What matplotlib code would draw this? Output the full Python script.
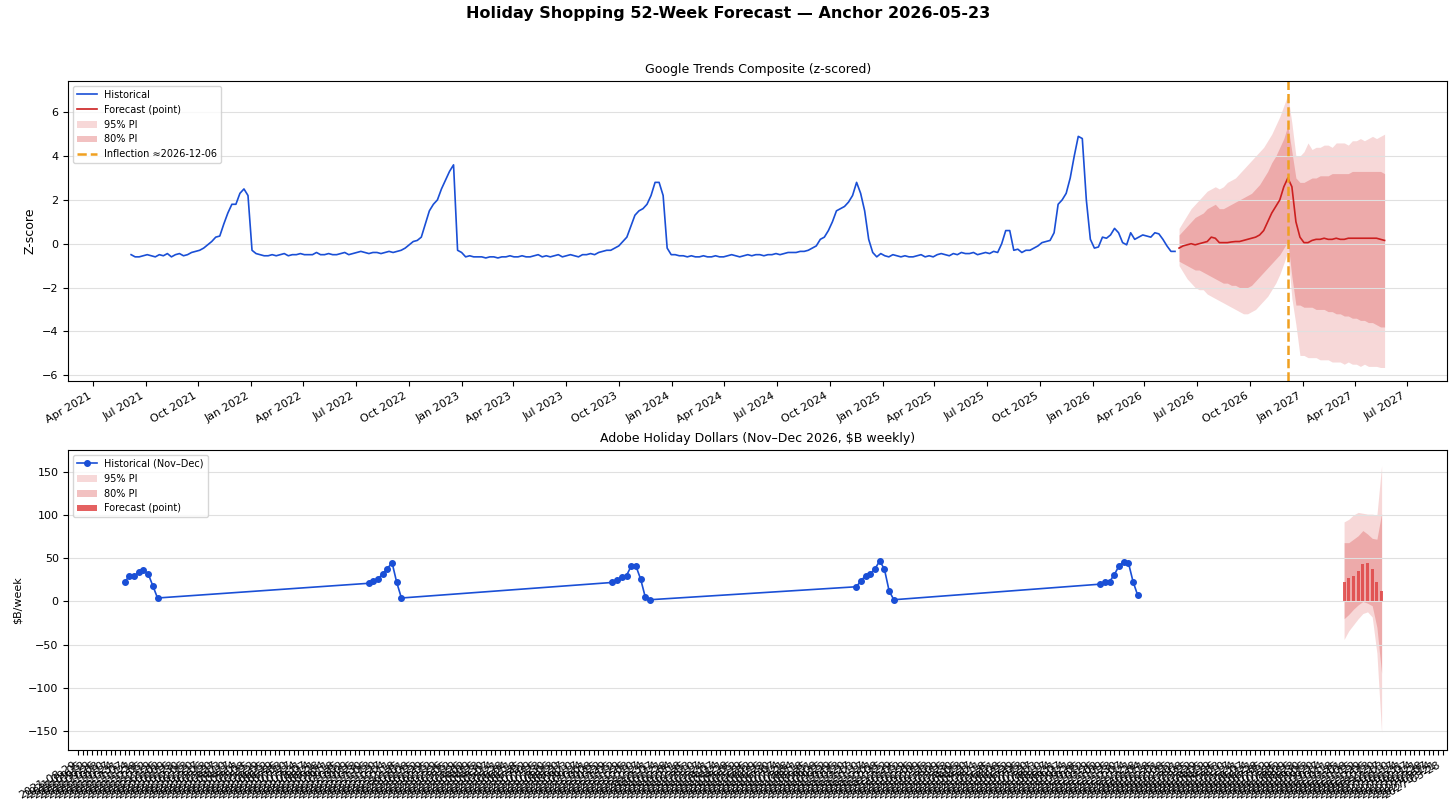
import numpy as np
import pandas as pd
import matplotlib
matplotlib.use("Agg")
import matplotlib.pyplot as plt
import matplotlib.dates as mdates

# --- Google Trends composite (weekly z-score), one list per Jun->May season
hist_start = "2021-06-06"
season_2021 = [-0.5, -0.6, -0.6, -0.55, -0.5, -0.55, -0.6, -0.5, -0.55, -0.45, -0.6, -0.5, -0.45, -0.55, -0.5,
               -0.4, -0.35, -0.3, -0.2, -0.05, 0.1,
               0.3, 0.35, 0.9, 1.4, 1.8, 1.8, 2.3, 2.5, 2.2, -0.3,
               -0.45, -0.5, -0.55, -0.55, -0.5, -0.55, -0.5, -0.45, -0.55, -0.5, -0.5, -0.45, -0.5, -0.5, -0.5,
               -0.4, -0.5, -0.5, -0.45, -0.5, -0.5]
season_2022 = [-0.45, -0.4, -0.5, -0.45, -0.4, -0.35, -0.4, -0.45, -0.4, -0.4, -0.45, -0.4, -0.35, -0.4, -0.35,
               -0.3, -0.2, -0.05, 0.1, 0.15, 0.3, 0.9,
               1.5, 1.8, 2.0, 2.5, 2.9, 3.3, 3.6, -0.3, -0.4,
               -0.6, -0.55, -0.6, -0.6, -0.6, -0.65, -0.6, -0.6, -0.65, -0.6, -0.6, -0.55, -0.6, -0.6, -0.55,
               -0.6, -0.6, -0.55, -0.5, -0.6, -0.55]
season_2023 = [-0.6, -0.55, -0.5, -0.6, -0.55, -0.5, -0.55, -0.6, -0.5, -0.5, -0.45, -0.5, -0.4, -0.35, -0.3,
               -0.3, -0.2, -0.1, 0.1, 0.3, 0.8, 1.3,
               1.5, 1.6, 1.8, 2.2, 2.8, 2.8, 2.2, -0.2, -0.5,
               -0.5, -0.55, -0.55, -0.6, -0.55, -0.6, -0.6, -0.55, -0.6, -0.6, -0.55, -0.6, -0.6, -0.55, -0.5,
               -0.55, -0.6, -0.55, -0.5, -0.55, -0.5]
season_2024 = [-0.5, -0.55, -0.5, -0.5, -0.45, -0.5, -0.45, -0.4, -0.4, -0.4, -0.35, -0.35, -0.3, -0.2, -0.1,
               0.2, 0.3, 0.6, 1.0, 1.5, 1.6, 1.7,
               1.9, 2.2, 2.8, 2.3, 1.5, 0.2, -0.4, -0.6, -0.45,
               -0.55, -0.6, -0.5, -0.55, -0.6, -0.55, -0.6, -0.6, -0.55, -0.5, -0.6, -0.55, -0.6, -0.5, -0.45,
               -0.5, -0.55, -0.45, -0.5, -0.4, -0.45]
season_2025 = [-0.45, -0.4, -0.5, -0.45, -0.4, -0.45, -0.35, -0.4, 0.0, 0.6, 0.6, -0.3, -0.25, -0.4, -0.3,
               -0.3, -0.2, -0.1, 0.05, 0.1, 0.15, 0.5,
               1.8, 2.0, 2.3, 3.0, 4.0, 4.9, 4.8, 2.0, 0.2,
               -0.2, -0.15, 0.3, 0.25, 0.4, 0.7, 0.5, 0.05, -0.05, 0.5, 0.2, 0.3, 0.4, 0.35, 0.3,
               0.5, 0.45, 0.2, -0.1, -0.35, -0.35]

fc_start = "2026-05-31"
fc_point = [-0.2, -0.1, -0.05, 0.0, -0.05, 0.0, 0.05, 0.1, 0.3, 0.25,
            0.05, 0.05, 0.05, 0.08, 0.1, 0.1, 0.15, 0.2, 0.25, 0.3,
            0.4, 0.6, 1.0, 1.4, 1.7, 2.0, 2.6, 3.0, 2.6, 1.0,
            0.3, 0.05, 0.05, 0.15, 0.2, 0.2, 0.25, 0.2, 0.2, 0.25,
            0.2, 0.2, 0.25, 0.25, 0.25, 0.25, 0.25, 0.25, 0.25, 0.25, 0.2, 0.15]
fc_up80 = [0.4, 0.6, 0.8, 1.0, 1.2, 1.3, 1.4, 1.6, 1.7, 1.8,
           1.6, 1.6, 1.7, 1.8, 1.9, 2.0, 2.1, 2.2, 2.3, 2.5,
           2.7, 3.0, 3.3, 3.7, 4.0, 4.4, 4.8, 5.4, 4.2, 3.0,
           2.8, 2.8, 2.9, 3.0, 3.0, 3.1, 3.1, 3.1, 3.2, 3.2,
           3.2, 3.2, 3.2, 3.3, 3.3, 3.3, 3.3, 3.3, 3.3, 3.3, 3.3, 3.2]
fc_lo80 = [-0.8, -0.9, -1.0, -1.1, -1.2, -1.2, -1.3, -1.4, -1.5, -1.6,
           -1.7, -1.8, -1.8, -1.9, -1.9, -2.0, -2.0, -2.0, -1.9, -1.7,
           -1.5, -1.3, -1.1, -0.9, -0.7, -0.5, -0.2, 0.1, -1.5, -2.8,
           -2.8, -2.9, -2.9, -2.9, -3.0, -3.0, -3.0, -3.1, -3.1, -3.2,
           -3.2, -3.3, -3.3, -3.4, -3.4, -3.5, -3.5, -3.6, -3.6, -3.7, -3.8, -3.8]
fc_up95 = [0.7, 1.0, 1.3, 1.6, 1.8, 2.0, 2.2, 2.4, 2.5, 2.6,
           2.5, 2.6, 2.8, 2.9, 3.0, 3.2, 3.4, 3.6, 3.8, 4.0,
           4.2, 4.4, 4.7, 5.0, 5.4, 5.8, 6.3, 6.8, 5.5, 4.0,
           4.0, 4.2, 4.6, 4.3, 4.4, 4.4, 4.5, 4.5, 4.4, 4.6,
           4.6, 4.6, 4.5, 4.7, 4.7, 4.8, 4.7, 4.8, 4.9, 4.8, 4.9, 5.0]
fc_lo95 = [-1.0, -1.3, -1.6, -1.8, -2.0, -2.1, -2.1, -2.3, -2.4, -2.5,
           -2.6, -2.7, -2.8, -2.9, -3.0, -3.1, -3.2, -3.2, -3.1, -3.0,
           -2.8, -2.6, -2.4, -2.1, -1.8, -1.4, -0.9, -0.35, -2.5, -3.7,
           -5.1, -5.1, -5.2, -5.2, -5.2, -5.3, -5.3, -5.3, -5.4, -5.4,
           -5.4, -5.5, -5.4, -5.5, -5.5, -5.6, -5.5, -5.6, -5.6, -5.6, -5.65, -5.65]
inflection = "2026-12-06"

# --- Adobe holiday dollars ($B weekly), Nov-Dec of each year
adobe_hist = {
    "2021-11-07": [23, 29, 29, 34, 36, 32, 18, 4],
    "2022-11-06": [21, 24, 26, 32, 38, 45, 22, 4],
    "2023-11-05": [22, 25, 28, 30, 41, 41, 26, 5, 2],
    "2024-11-03": [17, 24, 30, 32, 38, 47, 37, 12, 2],
    "2025-11-02": [20, 22, 23, 31, 41, 46, 45, 23, 7],
}
adobe_fc_start = "2026-11-01"
adobe_fc = [23, 27, 30, 35, 43, 45, 38, 22, 12]
adobe_up95 = [92, 95, 100, 103, 102, 101, 101, 100, 157]
adobe_up80 = [68, 68, 72, 76, 82, 78, 73, 72, 102]
adobe_lo80 = [-20, -15, -9, -4, 0, -2, -5, -30, -83]
adobe_lo95 = [-44, -34, -27, -20, -14, -12, -18, -60, -152]
adobe_tick_start = "2021-08-29"
adobe_tick_end = "2027-03-28"

BLUE = "#1a4fd6"
RED = "#cc1f1f"
BAND = "#e06666"

season_vals = season_2021 + season_2022 + season_2023 + season_2024 + season_2025
hist_dates = pd.date_range(hist_start, periods=len(season_vals), freq="7D")
fc_dates = pd.date_range(fc_start, periods=len(fc_point), freq="7D")

fig, (ax1, ax2) = plt.subplots(2, 1, figsize=(14.56, 8.11), dpi=100)
fig.subplots_adjust(left=0.047, right=0.994, top=0.90, bottom=0.075, hspace=0.23)
fig.suptitle("Holiday Shopping 52-Week Forecast \u2014 Anchor 2026-05-23", fontsize=11.5, fontweight="bold", y=0.993)

# top panel
ax1.plot(hist_dates, season_vals, color=BLUE, lw=1.2, label="Historical")
ax1.plot(fc_dates, fc_point, color=RED, lw=1.2, label="Forecast (point)")
ax1.fill_between(fc_dates, fc_lo95, fc_up95, color=BAND, alpha=0.25, lw=0, label="95% PI")
ax1.fill_between(fc_dates, fc_lo80, fc_up80, color=BAND, alpha=0.4, lw=0, label="80% PI")
ax1.axvline(pd.Timestamp(inflection), color="#f0a020", ls="--", lw=1.8, label="Inflection \u22482026-12-06")
ax1.set_title("Google Trends Composite (z-scored)", fontsize=9)
ax1.set_ylabel("Z-score", fontsize=9)
ax1.xaxis.set_major_locator(mdates.MonthLocator(bymonth=[1, 4, 7, 10]))
ax1.xaxis.set_major_formatter(mdates.DateFormatter("%b %Y"))
plt.setp(ax1.get_xticklabels(), rotation=30, ha="right", fontsize=8)
ax1.tick_params(axis="y", labelsize=8)
ax1.grid(axis="y", color="#e0e0e0")
ax1.legend(loc="upper left", fontsize=7)

# bottom panel
all_d, all_v = [], []
for start, vals in adobe_hist.items():
    all_d.extend(pd.date_range(start, periods=len(vals), freq="7D"))
    all_v.extend(vals)
ax2.plot(all_d, all_v, color=BLUE, lw=1.2, marker="o", ms=4, label="Historical (Nov\u2013Dec)")
afc_dates = pd.date_range(adobe_fc_start, periods=len(adobe_fc), freq="7D")
ax2.fill_between(afc_dates, adobe_lo95, adobe_up95, color=BAND, alpha=0.25, lw=0, label="95% PI")
ax2.fill_between(afc_dates, adobe_lo80, adobe_up80, color=BAND, alpha=0.4, lw=0, label="80% PI")
ax2.bar(afc_dates, adobe_fc, width=4.5, color="#e04545", alpha=0.85, label="Forecast (point)")
ax2.set_title("Adobe Holiday Dollars (Nov\u2013Dec 2026, $B weekly)", fontsize=9)
ax2.set_ylabel("$B/week", fontsize=8)
week_ticks = pd.date_range(adobe_tick_start, adobe_tick_end, freq="7D")
ax2.set_xticks(week_ticks)
ax2.set_xticklabels([d.strftime("%Y-%m-%d") for d in week_ticks], rotation=30, ha="right", fontsize=8)
ax2.set_xlim(week_ticks[0] - pd.Timedelta(days=14), week_ticks[-1] + pd.Timedelta(days=7))
ax2.set_ylim(-172, 175)
ax2.tick_params(axis="y", labelsize=8)
ax2.grid(axis="y", color="#e0e0e0")
ax2.legend(loc="upper left", fontsize=7)

fig.savefig("out.png", dpi=100)
